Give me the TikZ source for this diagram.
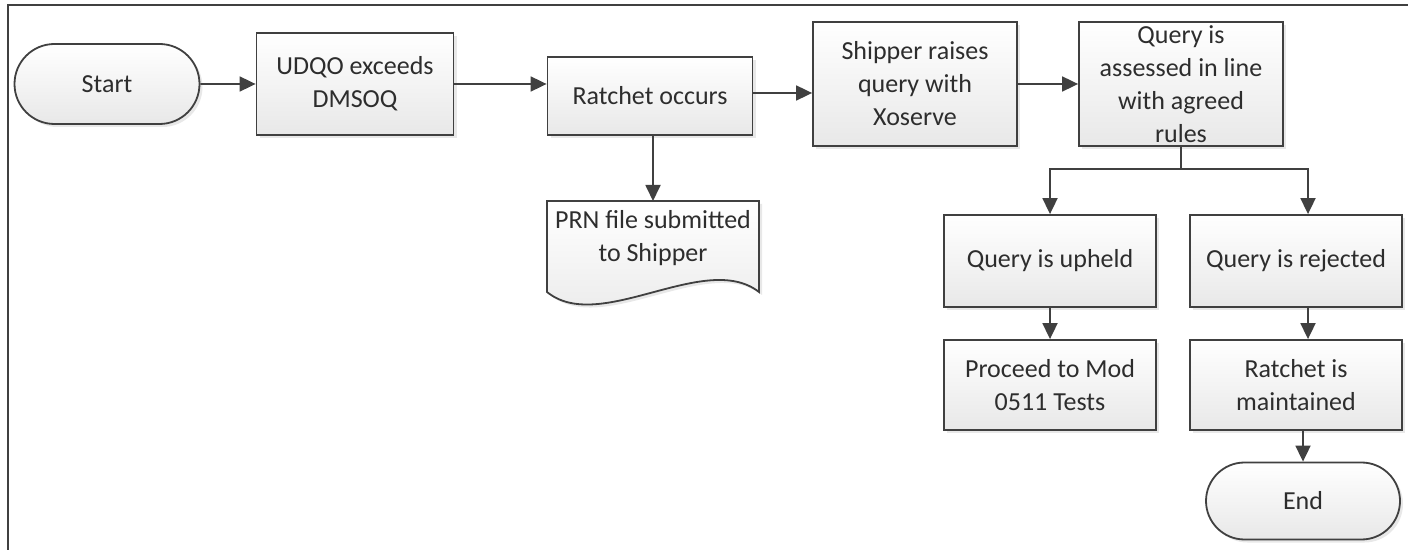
\documentclass[tikz,border=0pt]{standalone}
\usepackage{fontspec}
\setmainfont{Carlito}
\usepackage{xcolor}
\usepackage{tikz}
\usetikzlibrary{shapes.misc, arrows.meta, positioning, calc, shadows}
\definecolor{lineGray}{RGB}{64, 64, 64}
\definecolor{textGray}{RGB}{45, 45, 45}

\begin{document}
\begin{tikzpicture}[x=0.5pt, y=-0.5pt,
    every node/.style={font=\fontsize{13}{16.5}\selectfont, text=textGray, align=center},
    procbox/.style={draw=lineGray, line width=0.9pt, top color=white, bottom color=black!9,
        drop shadow={opacity=0.18, shadow xshift=1.5pt, shadow yshift=-1.5pt},
        inner sep=0pt},
    termbox/.style={procbox, rounded rectangle},
    flowarrow/.style={draw=lineGray, line width=0.9pt, -{Triangle[width=7.5pt, length=8pt]}}]
    \useasboundingbox (0,0) rectangle (1408,550);

    % Frame
    \draw[lineGray, line width=1.3pt] (8,550) -- (8,5) -- (1408,5);

    % Top row
    \node[termbox, minimum width=92.5pt, minimum height=40pt] (start) at (107,84) {Start};
    \node[procbox, minimum width=98.5pt, minimum height=51pt] (udqo) at (355,84) {UDQO exceeds\\DMSOQ};
    \node[procbox, minimum width=102.5pt, minimum height=39pt] (ratchet) at (650,96) {Ratchet occurs};
    \node[procbox, minimum width=102pt, minimum height=62pt] (shipper) at (915,84) {Shipper raises\\query with\\Xoserve};
    \node[procbox, minimum width=102pt, minimum height=62pt] (assessed) at (1181,84) {Query is\\assessed in line\\with agreed\\rules};

    % The PRN document
    \path[draw=lineGray, line width=0.9pt, top color=white, bottom color=black!9,
        drop shadow={opacity=0.18, shadow xshift=1.5pt, shadow yshift=-1.5pt}]
        (547,201) -- (759,201) -- (759,292)
        .. controls (705,250) and (600,335) .. (547,292) -- cycle;
    \coordinate (prntop) at (653,201);
    \node (prn) at (653,238) {PRN file submitted\\to Shipper};

    % Outcomes
    \node[procbox, minimum width=106pt, minimum height=46pt] (upheld) at (1050,261) {Query is upheld};
    \node[procbox, minimum width=106pt, minimum height=46pt] (rejected) at (1296,261) {Query is rejected};
    \node[procbox, minimum width=106pt, minimum height=45pt] (proceed) at (1050,385) {Proceed to Mod\\0511 Tests};
    \node[procbox, minimum width=106pt, minimum height=45pt] (kept) at (1296,385) {Ratchet is\\maintained};
    \node[termbox, minimum width=97pt, minimum height=38.5pt] (end) at (1303,501) {End};

    % Connectors
    \draw[flowarrow] (start) -- (udqo);
    \draw[flowarrow] (udqo.east) -- (udqo.east -| ratchet.west);
    \draw[flowarrow] ([yshift=1.5pt]ratchet.east) -- ([yshift=1.5pt]ratchet.east -| shipper.west);
    \draw[flowarrow] (shipper) -- (assessed);
    \draw[flowarrow] (ratchet.south -| prntop) -- (prntop);
    \coordinate (split) at (1181,169);
    \draw[lineGray, line width=0.9pt] (assessed.south) -- (split);
    \draw[flowarrow] (split) -| (upheld.north);
    \draw[flowarrow] (split) -| ([xshift=6pt]rejected.north);
    \draw[flowarrow] (upheld) -- (proceed);
    \draw[flowarrow] ([xshift=6pt]rejected.south) -- ([xshift=6pt]kept.north);
    \draw[flowarrow] (kept.south -| end.north) -- (end.north);
\end{tikzpicture}
\end{document}
